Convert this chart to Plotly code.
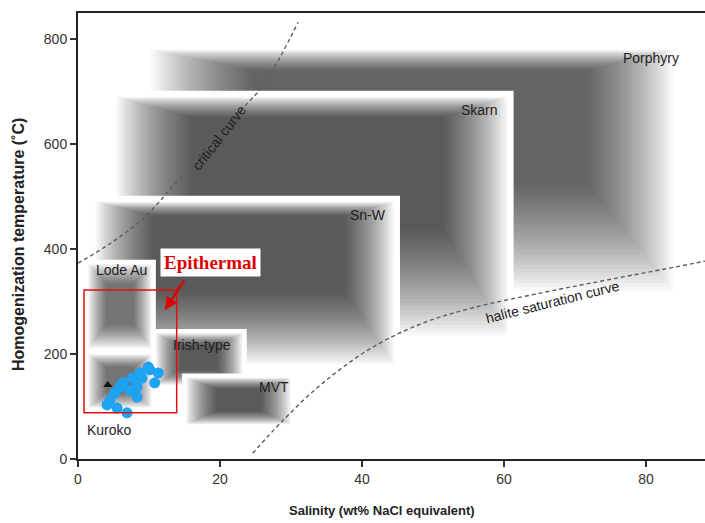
import plotly.graph_objects as go

# ---------------- data ----------------
field_names = ["Porphyry", "Skarn", "Sn-W", "Lode Au", "Irish-type", "Kuroko", "MVT"]
field_x0 = [10.3, 5.4, 2.5, 1.4, 10.9, 1.4, 15.2]
field_x1 = [83.8, 60.5, 44.5, 10.4, 23.2, 10.4, 30.0]
field_y0 = [320, 235, 180, 210, 141, 97, 66]
field_y1 = [780, 690, 490, 372, 240, 200, 155]

label_x = [80.7, 56.5, 40.8, 6.1, 17.5, 4.5, 27.6]
label_y = [764, 665, 465, 360, 217, 55, 137]

critical_x = [0, 4.6, 9.4, 14.1, 23.0, 26.3, 31.0]
critical_y = [373, 411, 461, 531, 665, 716, 832]

halite_x = [24.6, 28.9, 34.5, 41.5, 48.6, 55.6, 65.1, 74.5, 86.9, 88.3]
halite_y = [11, 74, 145, 213, 259, 288, 316, 341, 373, 377]

sample_salinity = [9.9, 11.3, 10.8, 8.7, 7.6, 6.3, 8.3, 9.0, 5.2, 8.3, 4.5, 4.1, 5.5, 6.9, 5.9, 7.3, 10.1]
sample_temp = [175, 164, 145, 164, 154, 145, 137, 154, 126, 118, 112, 103, 97, 88, 137, 131, 170]

epi_x = [0.85, 13.9]
epi_y = [88, 322]

x_ticks = [0, 20, 40, 60, 80]
y_ticks = [0, 200, 400, 600, 800]

# ---------------- layout helpers ----------------
W, H = 705, 523
ML, MR, MT, MB = 78, 0, 13, 64
XMAX, YMAX = 88.3, 849.5
PX_X = (W - ML - MR) / XMAX
PX_Y = (H - MT - MB) / YMAX

big = [True, True, True, False, False, False, False]
darkness = [0.54, 0.6, 0.62, 0.52, 0.6, 0.48, 0.6]

shapes = []
N = 30
for i in range(len(field_names)):
    x0, x1, y0, y1 = field_x0[i], field_x1[i], field_y0[i], field_y1[i]
    w, h = x1 - x0, y1 - y0
    pad = 6 if big[i] else 4
    # white halo
    shapes.append(dict(type="rect", xref="x", yref="y",
                       x0=x0 - pad / PX_X, x1=x1 + pad / PX_X,
                       y0=y0 - pad / PX_Y, y1=y1 + pad / PX_Y,
                       fillcolor="white", line=dict(width=0), layer="below"))
    if big[i]:
        fl, fr, ft, fb = 0.2 * w, 0.17 * w, 0.09 * h, 0.46 * h
    else:
        fl, fr, ft, fb = 0.3 * w, 0.3 * w, 0.25 * h, 0.3 * h
    a = 1 - (1 - darkness[i]) ** (1.0 / N)
    for k in range(N):
        f = k / N
        shapes.append(dict(type="rect", xref="x", yref="y",
                           x0=x0 + fl * f, x1=x1 - fr * f,
                           y0=y0 + fb * f, y1=y1 - ft * f,
                           fillcolor=f"rgba(0,0,0,{a:.4f})", line=dict(width=0),
                           layer="below"))

# epithermal rectangle
shapes.append(dict(type="rect", xref="x", yref="y", x0=epi_x[0], x1=epi_x[1],
                   y0=epi_y[0], y1=epi_y[1], line=dict(color="#e01010", width=1.5),
                   fillcolor="rgba(0,0,0,0)", layer="above"))

fig = go.Figure()

fig.add_trace(go.Scatter(x=critical_x, y=critical_y, mode="lines",
                         line=dict(color="#5e5e5e", width=1.4, dash="4px,3px", shape="spline"),
                         hoverinfo="skip", showlegend=False))
fig.add_trace(go.Scatter(x=halite_x, y=halite_y, mode="lines",
                         line=dict(color="#5e5e5e", width=1.4, dash="4px,3px", shape="spline"),
                         hoverinfo="skip", showlegend=False))

fig.add_trace(go.Scatter(x=[4.2], y=[141], mode="markers",
                         marker=dict(symbol="triangle-up", size=8, color="#111"),
                         showlegend=False, hoverinfo="skip"))

fig.add_trace(go.Scatter(x=sample_salinity, y=sample_temp, mode="markers",
                         marker=dict(size=11, color="#1ea2f2", line=dict(width=0)),
                         showlegend=False))

annotations = []
lab_font = dict(family="Liberation Sans, Arial", size=14, color="#1e1e1e")
for i, name in enumerate(field_names):
    annotations.append(dict(x=label_x[i], y=label_y[i], xref="x", yref="y", text=name,
                            showarrow=False, font=lab_font))

annotations.append(dict(x=19.8, y=612, xref="x", yref="y", text="critical curve",
                        textangle=-52, showarrow=False, font=lab_font))
annotations.append(dict(x=66.8, y=299, xref="x", yref="y", text="halite saturation curve",
                        textangle=-14, showarrow=False, font=lab_font))

annotations.append(dict(x=18.7, y=375, xref="x", yref="y", text="<b>Epithermal</b>",
                        showarrow=False, bgcolor="white", borderpad=3,
                        font=dict(family="Liberation Serif, Times New Roman", size=19, color="#e00000")))
annotations.append(dict(x=12.25, y=284, xref="x", yref="y", ax=15.1, ay=343,
                        axref="x", ayref="y", text="", showarrow=True,
                        arrowhead=2, arrowsize=1, arrowwidth=2.5, arrowcolor="#e00000"))

plotH = H - MT - MB
annotations.append(dict(x=(382 - ML) / (W - ML - MR), y=(MT + plotH - 511) / plotH,
                        xref="paper", yref="paper", xanchor="center", yanchor="middle",
                        text="<b>Salinity (wt% NaCl equivalent)</b>",
                        showarrow=False, font=dict(family="Liberation Sans, Arial", size=13, color="#222")))
annotations.append(dict(x=(19 - ML) / (W - ML - MR), y=(MT + plotH - 245) / plotH,
                        xref="paper", yref="paper", xanchor="center", yanchor="middle",
                        text="<b>Homogenization temperature (˚C)</b>",
                        textangle=-90, showarrow=False,
                        font=dict(family="Liberation Sans, Arial", size=16, color="#222")))

fig.update_layout(
    width=W, height=H,
    margin=dict(l=ML, r=MR, t=MT, b=MB),
    paper_bgcolor="white", plot_bgcolor="white",
    shapes=shapes, annotations=annotations,
    xaxis=dict(range=[0, XMAX], tickvals=x_ticks, ticks="outside", ticklen=6, tickwidth=1.5,
               tickcolor="#333", showline=True, linewidth=2, linecolor="#222", mirror=True,
               showgrid=False, zeroline=False,
               tickfont=dict(family="Liberation Sans, Arial", size=14, color="#333")),
    yaxis=dict(range=[0, YMAX], tickvals=y_ticks, ticks="outside", ticklen=6, tickwidth=1.5,
               tickcolor="#333", showline=True, linewidth=2, linecolor="#222",
               showgrid=False, zeroline=False,
               tickfont=dict(family="Liberation Sans, Arial", size=14, color="#333")),
    showlegend=False,
)

fig.write_html("out.html")
